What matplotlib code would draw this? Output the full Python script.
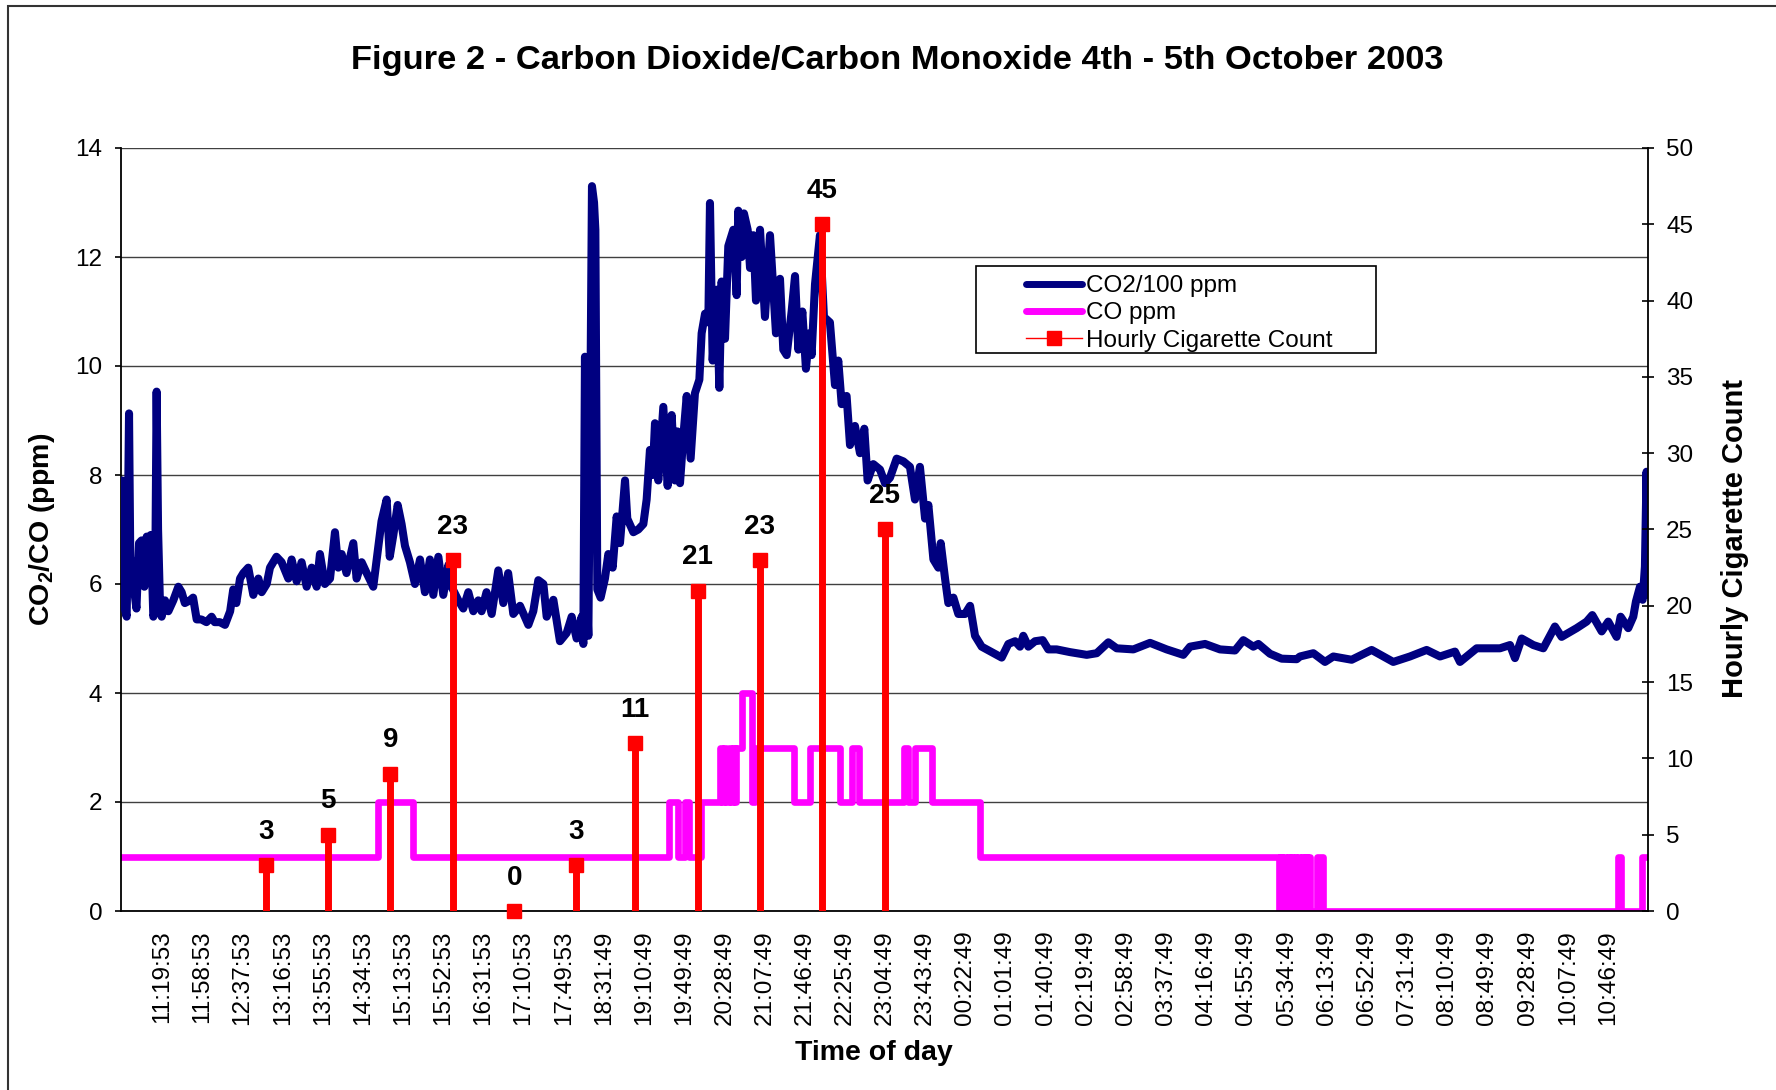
import matplotlib
matplotlib.use('Agg')
import matplotlib.pyplot as plt
from matplotlib.lines import Line2D
from matplotlib.patches import Rectangle

plt.rcParams['font.family'] = ['Liberation Sans', 'DejaVu Sans']
plt.rcParams['mathtext.fontset'] = 'custom'
plt.rcParams['mathtext.rm'] = 'Liberation Sans'
plt.rcParams['mathtext.bf'] = 'Liberation Sans:bold'

# x = sample number (one reading a minute, category axis as in the original)
n_samples = 1483

co2_minute = [0, 1, 3, 5.5, 6.5, 7.8, 9, 12, 15, 17.5, 20, 22.7, 25, 26.5, 29, 31.4, 33, 34.6, 36, 37.9,
              39.5, 42.7, 46, 50.8, 55.7, 58.9, 62, 67, 70, 73.5, 78, 83, 88, 91, 96, 101, 106, 109, 112, 115.6,
              118.8, 123.6, 128.5, 133.4, 136.6, 141.5, 144.7, 151, 156, 162.5, 165.7, 170.6, 175.4, 180.3, 185.2,
              190, 193.2, 198, 203, 207.8, 211, 214.3, 219, 225.6, 228.8, 233.7, 238.6, 245, 250, 253, 258, 261,
              264.5, 268.7, 272.5, 275.8, 280.6, 285.5, 290.4, 295.2, 300, 303.3, 308.2, 313, 318, 321, 327.6,
              332.4, 337.3, 342.2, 347, 350.2, 355, 360, 366.4, 371.3, 376, 381, 387.5, 395.6, 400.4, 405.3,
              410.2, 413.4, 419.9, 426.3, 432.8, 437.7, 442.5, 447.4, 449, 450.6, 452, 453.9, 456.1, 457.4, 459.4,
              460.7, 462.6, 465.8, 470, 473.3, 477.5, 481.4, 484.6, 489.5, 491.7, 497.6, 502.4, 507.3, 510.5,
              513.7, 516.3, 518.6, 521.8, 526.7, 530.9, 534.8, 538, 540.3, 542.9, 546.1, 549.4, 553.2, 557.4,
              561.7, 563.9, 567.2, 570.4, 572, 574.6, 578.5, 581.1, 583.3, 586.6, 589.8, 594.7, 597.9, 599.5,
              602.8, 605, 608.6, 610.9, 614.1, 616.7, 620.6, 625.4, 630.3, 632.9, 636.1, 640, 643.2, 646.5,
              651.3, 654.6, 657.8, 661.7, 665.2, 668.5, 670.7, 674, 678.8, 682.7, 688.5, 693.4, 696.6, 699.9,
              704.7, 708, 712.8, 717.7, 721.9, 725.1, 730.6, 737.1, 742, 746.8, 753.3, 759.8, 766.2, 771.1,
              775.9, 780.9, 784.1, 789, 793.8, 796.1, 800.3, 803.5, 808.4, 813.2, 819.7, 824.6, 829.4, 835.9,
              845.6, 855.3, 861.8, 868.3, 873.1, 876.3, 881.2, 887.7, 895.1, 900.6, 908.7, 921.7, 937.9, 947.6,
              958.9, 967, 983.2, 999.4, 1015.5, 1031.7, 1038.2, 1052.8, 1067.3, 1081.9, 1090, 1099.7, 1104.6,
              1115.9, 1127.2, 1141.8, 1145, 1158, 1169.3, 1177.4, 1195.2, 1214.6, 1235.6, 1251.8, 1268, 1281,
              1295.5, 1300.4, 1316.6, 1339.2, 1349, 1353.8, 1360.3, 1371.6, 1381.3, 1392.6, 1399.1, 1413.7,
              1423.4, 1428.9, 1438, 1444.4, 1452.5, 1456.4, 1463.8, 1468.7, 1471.3, 1475.2, 1477.8, 1480,
              1481.6, 1482.6]
co2_value = [7.88, 7.9, 5.6, 5.4, 6.8, 9.13, 6.5, 6.0, 5.55, 6.75, 6.8, 5.95, 6.87, 6.5, 6.9, 5.4, 5.5, 9.53, 7.0, 5.6,
             5.4, 5.7, 5.5, 5.7, 5.95, 5.85, 5.65, 5.7, 5.75, 5.35, 5.35, 5.3, 5.4, 5.3, 5.3, 5.25, 5.5, 5.9, 5.65, 6.1,
             6.2, 6.3, 5.8, 6.1, 5.85, 6.0, 6.3, 6.5, 6.4, 6.1, 6.45, 6.05, 6.4, 5.95, 6.3,
             5.95, 6.55, 6.0, 6.1, 6.95, 6.3, 6.55, 6.2, 6.75, 6.1, 6.4, 6.2, 5.95, 6.7, 7.15, 7.55, 6.5,
             6.9, 7.45, 7.1, 6.7, 6.4, 6.0, 6.45, 5.85, 6.45, 5.8, 6.5, 5.8, 6.35, 5.95, 5.7,
             5.55, 5.85, 5.5, 5.7, 5.5, 5.85, 5.45, 6.25, 5.65, 6.2, 5.45, 5.6, 5.25, 5.5, 6.07,
             6.0, 5.4, 5.71, 4.95, 5.1, 5.4, 5.0, 5.4, 4.9, 10.17, 6.0, 5.05, 10.0, 13.3, 13.0,
             12.5, 5.9, 5.75, 6.1, 6.55, 6.3, 7.24, 6.75, 7.9, 7.2, 6.95, 7.0, 7.1, 7.55,
             8.46, 8.0, 8.95, 7.9, 9.25, 7.8, 9.1, 7.9, 8.8, 7.85, 8.7, 9.45, 8.3, 9.5,
             9.75, 10.6, 10.96, 10.8, 12.99, 10.1, 11.4, 9.6, 11.55, 10.5, 12.2, 12.5, 11.3, 12.85,
             12.0, 12.8, 12.5, 11.8, 12.4, 11.2, 12.5, 10.9, 12.4, 11.6, 10.6, 11.6, 10.3, 10.2,
             11.0, 11.65, 10.3, 11.0, 9.95, 10.6, 10.2, 11.5, 12.4, 10.9, 10.8, 9.65, 10.1, 9.3,
             9.45, 8.55, 8.9, 8.4, 8.85, 7.9, 8.2, 8.1, 7.85, 7.95, 8.3, 8.25, 8.15, 7.55,
             8.15, 7.2, 7.45, 6.45, 6.3, 6.75, 6.1, 5.65, 5.75, 5.45, 5.45, 5.6, 5.05, 4.85,
             4.75, 4.65, 4.9, 4.95, 4.85, 5.05, 4.85, 4.95, 4.97, 4.8, 4.8, 4.75, 4.7, 4.73,
             4.93, 4.82, 4.8, 4.92, 4.8, 4.7, 4.85, 4.9, 4.8, 4.78, 4.97, 4.85, 4.9,
             4.72, 4.63, 4.62, 4.67, 4.73, 4.57, 4.67, 4.61, 4.79, 4.57, 4.67, 4.79, 4.67,
             4.76, 4.57, 4.82, 4.82, 4.88, 4.64, 5.0, 4.88, 4.82, 5.22, 5.03, 5.19,
             5.31, 5.43, 5.13, 5.31, 5.03, 5.4, 5.19, 5.4, 5.68, 5.95, 5.71, 6.32,
             8.06, 5.8]

# CO ppm, value held from each change point to the next
co_minute = [0, 250, 284, 532, 541, 548, 552, 563, 582, 584, 586, 588, 590, 592, 594, 596, 597, 603, 613, 616,
             654, 669, 698, 710, 717, 760, 764, 771, 788, 834, 1125, 1126, 1128, 1129, 1131, 1133, 1135, 1136,
             1138, 1140, 1141, 1143, 1145, 1147, 1149, 1150, 1152, 1153, 1155, 1162, 1167, 1454, 1457, 1477, 1483]
co_value = [1, 2, 1, 2, 1, 2, 1, 2, 3, 2, 3, 2, 3, 2, 3, 2, 3, 4, 2, 3,
            2, 3, 2, 3, 2, 3, 2, 3, 2, 1, 0, 1, 0, 1, 0, 1, 0, 1,
            0, 1, 0, 1, 0, 1, 0, 1, 0, 1, 0, 1, 0, 1, 0, 1, 1]

cig_minute = [140.5, 201, 261.5, 322, 382, 442, 499.5, 560, 620.5, 681, 741.5]
cig_count = [3, 5, 9, 23, 0, 3, 11, 21, 23, 45, 25]

time_labels = ['11:19:53', '11:58:53', '12:37:53', '13:16:53', '13:55:53', '14:34:53', '15:13:53', '15:52:53',
               '16:31:53', '17:10:53', '17:49:53', '18:31:49', '19:10:49', '19:49:49', '20:28:49', '21:07:49',
               '21:46:49', '22:25:49', '23:04:49', '23:43:49', '00:22:49', '01:01:49', '01:40:49', '02:19:49',
               '02:58:49', '03:37:49', '04:16:49', '04:55:49', '05:34:49', '06:13:49', '06:52:49', '07:31:49',
               '08:10:49', '08:49:49', '09:28:49', '10:07:49', '10:46:49']
label_first = 40
label_step = 39

navy = '#000080'
magenta = '#FF00FF'
red = '#FF0000'

W, H = 1776, 1090
fig = plt.figure(figsize=(W / 100, H / 100), dpi=100)
ax = fig.add_axes([121 / W, 1 - 911 / H, 1527 / W, 763 / H])
ax2 = ax.twinx()

ax.plot(co2_minute, co2_value, color=navy, lw=5.8, solid_joinstyle='round', solid_capstyle='round', zorder=3)
ax.plot(co_minute, co_value, color=magenta, lw=4.8, drawstyle='steps-post', zorder=2)

ax.set_xlim(0, n_samples)
ax.set_ylim(0, 14)
ax.set_yticks(range(0, 15, 2))
ax.grid(axis='y', color='#404040', lw=1)
ax.set_axisbelow(True)
tick_pos = [label_first + label_step * i for i in range(len(time_labels))]
ax.set_xticks(tick_pos, time_labels, rotation=90)
ax.tick_params(axis='x', length=0, pad=14, labelsize=17.5)
ax.tick_params(axis='y', direction='out', length=4.5, width=1.2, pad=9, labelsize=17.5)
for s in ['top', 'right']:
    ax.spines[s].set_visible(False)
for s in ['left', 'bottom']:
    ax.spines[s].set_linewidth(1.3)

ax2.set_ylim(0, 50)
ax2.set_yticks(range(0, 51, 5))
ax2.tick_params(axis='y', direction='inout', length=9, width=1.2, pad=8.5, labelsize=17.5)
for s in ['top', 'left', 'bottom']:
    ax2.spines[s].set_visible(False)
ax2.spines['right'].set_linewidth(1.3)

ax2.vlines(cig_minute, 0, cig_count, colors=red, lw=5, zorder=4)
ax2.plot(cig_minute, cig_count, ls='none', marker='s', ms=10, color=red, zorder=5, clip_on=False)
for m, c in zip(cig_minute, cig_count):
    ax2.annotate(str(c), (m, c), xytext=(0, 24), textcoords='offset points', ha='center', va='center',
                 fontsize=20, fontweight='bold', zorder=6)

# legend with an Excel-like box
ax2.add_patch(Rectangle((0.56, 0.7313), 0.262, 0.114, transform=ax2.transAxes, fc='white', ec='black',
                        lw=1.2, zorder=7))
handles = [Line2D([], [], color=navy, lw=5, solid_capstyle='round'),
           Line2D([], [], color=magenta, lw=5, solid_capstyle='round'),
           Line2D([], [], color=red, lw=1, marker='s', ms=10)]
leg = ax2.legend(handles, ['CO2/100 ppm', 'CO ppm', 'Hourly Cigarette Count'], loc='upper left',
                 bbox_to_anchor=(0.5927, 0.8335), frameon=False, fontsize=17.5, handlelength=2.3,
                 handletextpad=0.15, labelspacing=0.215, borderpad=0, borderaxespad=0)
leg.set_zorder(8)

fig.text(897 / W, 1 - 60 / H, 'Figure 2 - Carbon Dioxide/Carbon Monoxide 4th - 5th October 2003',
         ha='center', va='center', fontsize=24.8, fontweight='bold')
fig.text(42 / W, 1 - 529 / H, r'$\mathbf{CO_2}$/CO (ppm)', rotation=90, ha='center', va='center',
         fontsize=20.5, fontweight='bold')
fig.text(1735 / W, 1 - 538 / H, 'Hourly Cigarette Count', rotation=90, ha='center', va='center',
         fontsize=21, fontweight='bold')
fig.text(874 / W, 1 - 1053 / H, 'Time of day', ha='center', va='center', fontsize=20.5, fontweight='bold')

# outer chart border
fig.add_artist(Rectangle((8 / W, -0.1), 1.2, 1.1 - 6 / H, transform=fig.transFigure, fill=False,
                         ec='#333333', lw=1.5))

fig.savefig('out.png', dpi=100)
